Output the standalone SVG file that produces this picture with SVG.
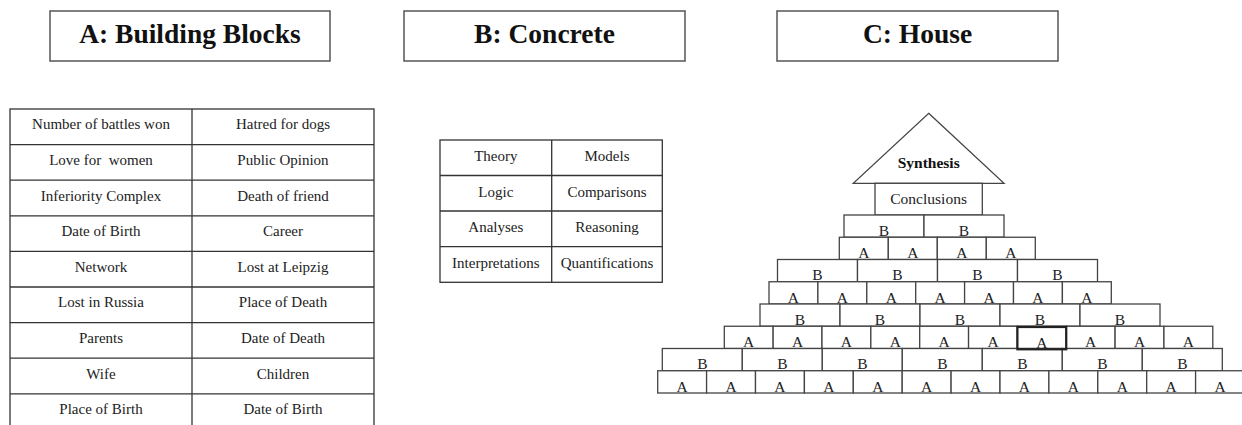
<svg xmlns="http://www.w3.org/2000/svg" width="1242" height="425" viewBox="0 0 1242 425">
<style>
.hdr{fill:#fff;stroke:#555;stroke-width:1.5}
.ht{font-family:"Liberation Serif",serif;font-weight:bold;font-size:27.5px;fill:#111;text-anchor:middle}
.cell{fill:none;stroke:#333;stroke-width:1.3}
.tt{font-family:"Liberation Serif",serif;font-size:15px;fill:#222;text-anchor:middle;white-space:pre}
.blk{fill:#fff;stroke:#444;stroke-width:1.3}
.lt{font-family:"Liberation Serif",serif;font-size:15.5px;fill:#222;text-anchor:middle}
.bold{fill:none;stroke:#222;stroke-width:2.2}
</style>
<rect width="1242" height="425" fill="#fff"/>

<g id="header-a"><rect class="hdr" x="50" y="11" width="280" height="50"/><text class="ht" x="190" y="43">A: Building Blocks</text></g>
<g id="header-b"><rect class="hdr" x="404" y="11" width="281" height="50"/><text class="ht" x="544.5" y="43">B: Concrete</text></g>
<g id="header-c"><rect class="hdr" x="777" y="11" width="281" height="50"/><text class="ht" x="917.5" y="43">C: House</text></g>

<g id="table-a">
<rect class="cell" x="10" y="109" width="364" height="330"/>
<line class="cell" x1="192" y1="109" x2="192" y2="430"/>
<line class="cell" x1="10" y1="144.6" x2="374" y2="144.6"/>
<line class="cell" x1="10" y1="180.2" x2="374" y2="180.2"/>
<line class="cell" x1="10" y1="215.8" x2="374" y2="215.8"/>
<line class="cell" x1="10" y1="251.4" x2="374" y2="251.4"/>
<line class="cell" x1="10" y1="287" x2="374" y2="287"/>
<line class="cell" x1="10" y1="322.6" x2="374" y2="322.6"/>
<line class="cell" x1="10" y1="358.2" x2="374" y2="358.2"/>
<line class="cell" x1="10" y1="393.8" x2="374" y2="393.8"/>
<text class="tt" x="101" y="129.3">Number of battles won</text><text class="tt" x="283" y="129.3">Hatred for dogs</text>
<text class="tt" x="101" y="164.9" xml:space="preserve">Love for  women</text><text class="tt" x="283" y="164.9">Public Opinion</text>
<text class="tt" x="101" y="200.5">Inferiority Complex</text><text class="tt" x="283" y="200.5">Death of friend</text>
<text class="tt" x="101" y="236.1">Date of Birth</text><text class="tt" x="283" y="236.1">Career</text>
<text class="tt" x="101" y="271.7">Network</text><text class="tt" x="283" y="271.7">Lost at Leipzig</text>
<text class="tt" x="101" y="307.3">Lost in Russia</text><text class="tt" x="283" y="307.3">Place of Death</text>
<text class="tt" x="101" y="342.9">Parents</text><text class="tt" x="283" y="342.9">Date of Death</text>
<text class="tt" x="101" y="378.5">Wife</text><text class="tt" x="283" y="378.5">Children</text>
<text class="tt" x="101" y="414.1">Place of Birth</text><text class="tt" x="283" y="414.1">Date of Birth</text>
</g>

<g id="table-b">
<rect class="cell" x="440" y="140" width="222.3" height="142.3"/>
<line class="cell" x1="551.7" y1="140" x2="551.7" y2="282.3"/>
<line class="cell" x1="440" y1="175.5" x2="662.3" y2="175.5"/>
<line class="cell" x1="440" y1="211" x2="662.3" y2="211"/>
<line class="cell" x1="440" y1="246.7" x2="662.3" y2="246.7"/>
<text class="tt" x="495.8" y="161">Theory</text><text class="tt" x="607" y="161">Models</text>
<text class="tt" x="495.8" y="196.6">Logic</text><text class="tt" x="607" y="196.6">Comparisons</text>
<text class="tt" x="495.8" y="232.2">Analyses</text><text class="tt" x="607" y="232.2">Reasoning</text>
<text class="tt" x="495.8" y="267.8">Interpretations</text><text class="tt" x="607" y="267.8">Quantifications</text>
</g>

<g id="roof">
<polygon points="928.7,113.3 1004,183.3 853.3,183.3" fill="#fff" stroke="#444" stroke-width="1.3"/>
<text x="928.7" y="167.5" style="font-family:'Liberation Serif',serif;font-weight:bold;font-size:15.5px;fill:#111;text-anchor:middle">Synthesis</text>
</g>
<g id="conclusions">
<rect class="blk" x="875" y="183.3" width="107.3" height="31.7"/>
<text class="tt" x="928.6" y="204" style="font-size:15.5px">Conclusions</text>
</g>

<g id="row-b1">
<rect class="blk" x="844" y="215" width="80" height="22.25"/><text class="lt" x="884" y="235.7">B</text>
<rect class="blk" x="924" y="215" width="80" height="22.25"/><text class="lt" x="964" y="235.7">B</text>
</g>
<g id="row-a1">
<rect class="blk" x="839.3" y="237.25" width="49" height="22.25"/><text class="lt" x="863.8" y="258">A</text>
<rect class="blk" x="888.3" y="237.25" width="49" height="22.25"/><text class="lt" x="912.8" y="258">A</text>
<rect class="blk" x="937.3" y="237.25" width="49" height="22.25"/><text class="lt" x="961.8" y="258">A</text>
<rect class="blk" x="986.3" y="237.25" width="49" height="22.25"/><text class="lt" x="1010.8" y="258">A</text>
</g>
<g id="row-b2">
<rect class="blk" x="777.5" y="259.5" width="80" height="22.25"/><text class="lt" x="817.5" y="280.2">B</text>
<rect class="blk" x="857.5" y="259.5" width="80" height="22.25"/><text class="lt" x="897.5" y="280.2">B</text>
<rect class="blk" x="937.5" y="259.5" width="80" height="22.25"/><text class="lt" x="977.5" y="280.2">B</text>
<rect class="blk" x="1017.5" y="259.5" width="80" height="22.25"/><text class="lt" x="1057.5" y="280.2">B</text>
</g>
<g id="row-a2">
<rect class="blk" x="769" y="281.75" width="48.9" height="22.25"/><text class="lt" x="793.45" y="302.5">A</text>
<rect class="blk" x="817.9" y="281.75" width="48.9" height="22.25"/><text class="lt" x="842.35" y="302.5">A</text>
<rect class="blk" x="866.8" y="281.75" width="48.9" height="22.25"/><text class="lt" x="891.25" y="302.5">A</text>
<rect class="blk" x="915.7" y="281.75" width="48.9" height="22.25"/><text class="lt" x="940.15" y="302.5">A</text>
<rect class="blk" x="964.6" y="281.75" width="48.9" height="22.25"/><text class="lt" x="989.05" y="302.5">A</text>
<rect class="blk" x="1013.5" y="281.75" width="48.9" height="22.25"/><text class="lt" x="1037.95" y="302.5">A</text>
<rect class="blk" x="1062.4" y="281.75" width="48.9" height="22.25"/><text class="lt" x="1086.85" y="302.5">A</text>
</g>
<g id="row-b3">
<rect class="blk" x="760" y="304" width="80" height="22.25"/><text class="lt" x="800" y="324.7">B</text>
<rect class="blk" x="840" y="304" width="80" height="22.25"/><text class="lt" x="880" y="324.7">B</text>
<rect class="blk" x="920" y="304" width="80" height="22.25"/><text class="lt" x="960" y="324.7">B</text>
<rect class="blk" x="1000" y="304" width="80" height="22.25"/><text class="lt" x="1040" y="324.7">B</text>
<rect class="blk" x="1080" y="304" width="80" height="22.25"/><text class="lt" x="1120" y="324.7">B</text>
</g>
<g id="row-a3">
<rect class="blk" x="724.3" y="326.25" width="48.85" height="22.25"/><text class="lt" x="748.7" y="347">A</text>
<rect class="blk" x="773.15" y="326.25" width="48.85" height="22.25"/><text class="lt" x="797.6" y="347">A</text>
<rect class="blk" x="822" y="326.25" width="48.85" height="22.25"/><text class="lt" x="846.4" y="347">A</text>
<rect class="blk" x="870.85" y="326.25" width="48.85" height="22.25"/><text class="lt" x="895.3" y="347">A</text>
<rect class="blk" x="919.7" y="326.25" width="48.85" height="22.25"/><text class="lt" x="944.1" y="347">A</text>
<rect class="blk" x="968.55" y="326.25" width="48.85" height="22.25"/><text class="lt" x="993" y="347">A</text>
<rect class="blk" x="1017.4" y="326.25" width="48.85" height="22.25"/>
<rect class="blk" x="1066.25" y="326.25" width="48.85" height="22.25"/><text class="lt" x="1090.7" y="347">A</text>
<rect class="blk" x="1115.1" y="326.25" width="48.85" height="22.25"/><text class="lt" x="1139.5" y="347">A</text>
<rect class="blk" x="1163.95" y="326.25" width="48.85" height="22.25"/><text class="lt" x="1188.4" y="347">A</text>
</g>
<g id="row-b4">
<rect class="blk" x="662.3" y="348.5" width="80" height="22.25"/><text class="lt" x="702.3" y="369.2">B</text>
<rect class="blk" x="742.3" y="348.5" width="80" height="22.25"/><text class="lt" x="782.3" y="369.2">B</text>
<rect class="blk" x="822.3" y="348.5" width="80" height="22.25"/><text class="lt" x="862.3" y="369.2">B</text>
<rect class="blk" x="902.3" y="348.5" width="80" height="22.25"/><text class="lt" x="942.3" y="369.2">B</text>
<rect class="blk" x="982.3" y="348.5" width="80" height="22.25"/><text class="lt" x="1022.3" y="369.2">B</text>
<rect class="blk" x="1062.3" y="348.5" width="80" height="22.25"/><text class="lt" x="1102.3" y="369.2">B</text>
<rect class="blk" x="1142.3" y="348.5" width="80" height="22.25"/><text class="lt" x="1182.3" y="369.2">B</text>
</g>
<g id="highlight-block">
<rect class="bold" x="1017.4" y="327" width="48.85" height="22.3"/><text class="lt" x="1041.8" y="348">A</text>
</g>
<g id="row-a4">
<rect class="blk" x="657.7" y="370.75" width="48.9" height="22.25"/><text class="lt" x="682.15" y="391.5">A</text>
<rect class="blk" x="706.6" y="370.75" width="48.9" height="22.25"/><text class="lt" x="731.05" y="391.5">A</text>
<rect class="blk" x="755.5" y="370.75" width="48.9" height="22.25"/><text class="lt" x="779.95" y="391.5">A</text>
<rect class="blk" x="804.4" y="370.75" width="48.9" height="22.25"/><text class="lt" x="828.85" y="391.5">A</text>
<rect class="blk" x="853.3" y="370.75" width="48.9" height="22.25"/><text class="lt" x="877.75" y="391.5">A</text>
<rect class="blk" x="902.2" y="370.75" width="48.9" height="22.25"/><text class="lt" x="926.65" y="391.5">A</text>
<rect class="blk" x="951.1" y="370.75" width="48.9" height="22.25"/><text class="lt" x="975.55" y="391.5">A</text>
<rect class="blk" x="1000" y="370.75" width="48.9" height="22.25"/><text class="lt" x="1024.45" y="391.5">A</text>
<rect class="blk" x="1048.9" y="370.75" width="48.9" height="22.25"/><text class="lt" x="1073.35" y="391.5">A</text>
<rect class="blk" x="1097.8" y="370.75" width="48.9" height="22.25"/><text class="lt" x="1122.25" y="391.5">A</text>
<rect class="blk" x="1146.7" y="370.75" width="48.9" height="22.25"/><text class="lt" x="1171.15" y="391.5">A</text>
<rect class="blk" x="1195.6" y="370.75" width="48.9" height="22.25"/><text class="lt" x="1220.05" y="391.5">A</text>
</g>
</svg>
